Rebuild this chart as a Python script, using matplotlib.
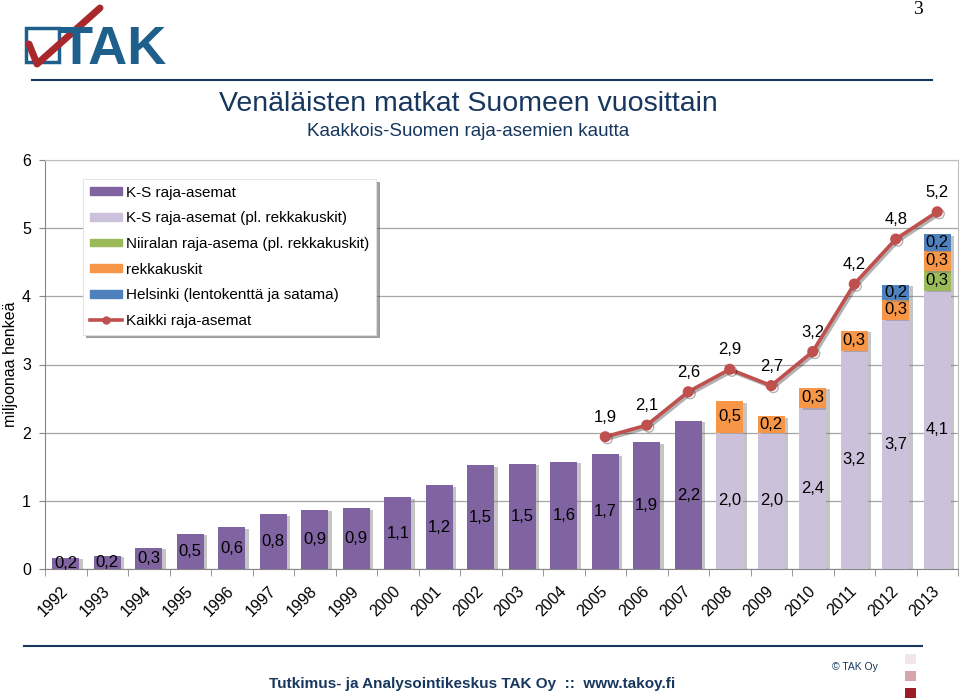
import matplotlib
matplotlib.use("Agg")
import matplotlib.pyplot as plt
import matplotlib.patheffects as pe
from matplotlib.lines import Line2D
from matplotlib.patches import Patch, Rectangle
import numpy as np

plt.rcParams['font.family'] = ['Liberation Sans', 'DejaVu Sans']

# --- data (milj. henkeä) ---
years = [str(y) for y in range(1992, 2014)]
ks_all = [0.16, 0.19, 0.31, 0.52, 0.61, 0.80, 0.87, 0.89, 1.05, 1.23, 1.52,
          1.54, 1.57, 1.68, 1.86, 2.17]                  # 1992-2007
ks_excl = [2.00, 2.00, 2.36, 3.20, 3.66, 4.08]          # 2008-2013
niirala = [0, 0, 0, 0, 0, 0.29]                         # 2008-2013
rekka = [0.46, 0.24, 0.30, 0.29, 0.28, 0.30]            # 2008-2013
helsinki = [0, 0, 0, 0, 0.23, 0.24]                     # 2008-2013
total_years = years[13:]                                # 2005-2013
total = [1.94, 2.11, 2.60, 2.93, 2.69, 3.19, 4.18, 4.84, 5.24]

C_DARK = '#8064A2'
C_LIGHT = '#CCC1DA'
C_GREEN = '#9BBB59'
C_ORANGE = '#F79646'
C_BLUE = '#4F81BD'
C_LINE = '#C0504D'
NAVY = '#17375E'


def fmt(v):
    return f"{v:.1f}".replace('.', ',')


fig = plt.figure(figsize=(9.6, 6.99), dpi=100)
ax = fig.add_axes([45 / 960, (699 - 569) / 699, 913 / 960, 409 / 699])

x = np.arange(len(years))
idx = {y: i for i, y in enumerate(years)}
x_old = x[:len(ks_all)]
x_new = x[len(ks_all):]
w = 0.66
shadow = [pe.withSimplePatchShadow(offset=(2.5, -1), shadow_rgbFace='#7f7f7f', alpha=0.45), pe.Normal()]

b1 = ax.bar(x_old, ks_all, w, color=C_DARK, zorder=3, path_effects=shadow)
b2 = ax.bar(x_new, ks_excl, w, color=C_LIGHT, zorder=3, path_effects=shadow)
bottom = np.array(ks_excl)
b3 = ax.bar(x_new, niirala, w, bottom=bottom, color=C_GREEN, zorder=3, path_effects=shadow)
bottom = bottom + np.array(niirala)
b4 = ax.bar(x_new, rekka, w, bottom=bottom, color=C_ORANGE, zorder=3, path_effects=shadow)
bottom = bottom + np.array(rekka)
b5 = ax.bar(x_new, helsinki, w, bottom=bottom, color=C_BLUE, zorder=3, path_effects=shadow)

for bars, vals in [(b1, ks_all), (b2, ks_excl), (b3, niirala), (b4, rekka), (b5, helsinki)]:
    labels = [fmt(v) if v > 0 else '' for v in vals]
    ax.bar_label(bars, labels=labels, label_type='center', fontsize=12, color='black')

xt = [idx[y] for y in total_years]
ax.plot(xt, total, color=C_LINE, lw=2.6, marker='o', ms=7, zorder=5,
        path_effects=[pe.SimpleLineShadow(offset=(1.5, -1.5), alpha=0.3), pe.Normal()])
for xi, v in zip(xt, total):
    ax.annotate(fmt(v), (xi, v), xytext=(0, 14), textcoords='offset points',
                ha='center', va='center', fontsize=12)

ax.set_xlim(-0.5, len(years) - 0.5)
ax.set_ylim(0, 6)
ax.set_yticks(range(7))
ax.yaxis.grid(True, color='#A6A6A6', lw=0.9, zorder=0)
ax.set_axisbelow(True)
ax.set_xticks(x)
ax.set_xticklabels(years, rotation=45, ha='right', va='center', rotation_mode='anchor')
ax.set_xticks(np.arange(-0.5, len(years), 1), minor=True)
ax.tick_params(axis='x', which='major', length=0, pad=14, labelsize=11.5)
ax.tick_params(axis='x', which='minor', length=5, color='#868686', direction='out')
ax.tick_params(axis='y', length=4, color='#868686', labelsize=11.5, pad=6)
for s in ['left', 'bottom']:
    ax.spines[s].set_color('#868686')
for s in ['top', 'right']:
    ax.spines[s].set_color('#BFBFBF')
ax.set_ylabel('miljoonaa henkeä', fontsize=11.5, labelpad=3)

handles = [Patch(color=C_DARK), Patch(color=C_LIGHT), Patch(color=C_GREEN),
           Patch(color=C_ORANGE), Patch(color=C_BLUE),
           Line2D([], [], color=C_LINE, lw=2.6, marker='o', ms=5)]
names = ['K-S raja-asemat', 'K-S raja-asemat (pl. rekkakuskit)',
         'Niiralan raja-asema (pl. rekkakuskit)', 'rekkakuskit',
         'Helsinki (lentokenttä ja satama)', 'Kaikki raja-asemat']
leg = ax.legend(handles, names, loc='upper left', bbox_to_anchor=(0.0416, 0.954),
                borderaxespad=0, fontsize=11, frameon=True, fancybox=False, shadow=True,
                handlelength=2.1, handleheight=0.4, handletextpad=0.25,
                labelspacing=0.76, borderpad=0.45)
leg.get_frame().set_edgecolor('#E0E0E0')
leg.get_frame().set_linewidth(0.6)
leg.set_zorder(6)

# --- page decoration (pixel coordinates) ---
ov = fig.add_axes([0, 0, 1, 1], zorder=-1)
ov.set_xlim(0, 960)
ov.set_ylim(699, 0)
ov.axis('off')

# logo
ov.add_patch(Rectangle((26, 28), 33, 34, fill=False, ec='#1F5F8B', lw=2.5))
ov.text(59, 64, 'TAK', color='#1F5F8B', fontsize=39, fontweight='bold',
        ha='left', va='baseline', family=['Liberation Sans'])
ov.plot([29, 37, 100], [44, 64, 8], color='#A8282C', lw=5, solid_capstyle='round')

ov.text(918, 10, '3', family=['Liberation Serif'], fontsize=14, ha='center', va='center')
ov.plot([32, 932], [80, 80], color=NAVY, lw=1.5)
ov.text(468, 104, 'Venäläisten matkat Suomeen vuosittain', color=NAVY,
        fontsize=20.5, ha='center', va='center')
ov.text(468, 132, 'Kaakkois-Suomen raja-asemien kautta', color=NAVY,
        fontsize=13.5, ha='center', va='center')

# footer
ov.plot([24, 922], [646, 646], color=NAVY, lw=1.5)
ov.text(472, 684, 'Tutkimus- ja Analysointikeskus TAK Oy  ::  www.takoy.fi', color=NAVY,
        fontsize=11, fontweight='bold', ha='center', va='center',
        family=['Liberation Sans Narrow', 'Liberation Sans'])
ov.text(855, 667, '© TAK Oy', color=NAVY, fontsize=7.5, ha='center', va='center')
for yy, col in [(654, '#F2E6E8'), (671, '#D4A5AB'), (688, '#9B1C24')]:
    ov.add_patch(Rectangle((905, yy), 11, 10, color=col, lw=0))

fig.savefig('out.png', dpi=100)
